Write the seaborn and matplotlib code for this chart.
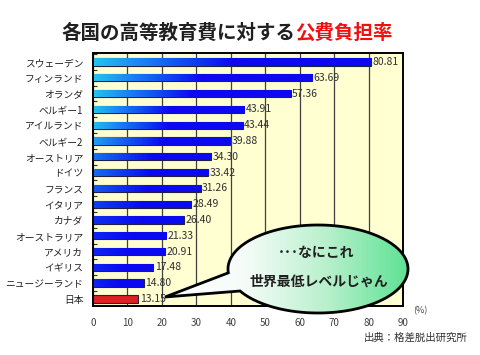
"""各国の高等教育費に対する公費負担率 - 横棒グラフ"""

import numpy as np
import seaborn as sns
from matplotlib import pyplot as plt
from matplotlib.path import Path
from matplotlib.patches import PathPatch
from matplotlib.colors import LinearSegmentedColormap, to_rgb

countries = ['スウェーデン', 'フィンランド', 'オランダ', 'ベルギー1', 'アイルランド', 'ベルギー2',
             'オーストリア', 'ドイツ', 'フランス', 'イタリア', 'カナダ', 'オーストラリア',
             'アメリカ', 'イギリス', 'ニュージーランド', '日本']
values = [80.81, 63.69, 57.36, 43.91, 43.44, 39.88, 34.30, 33.42, 31.26, 28.49,
          26.40, 21.33, 20.91, 17.48, 14.80, 13.15]
highlight = '日本'
xticks = list(range(0, 100, 10))

title_black = '各国の高等教育費に対する'
title_red = '公費負担率'
bubble_lines = ['･･･なにこれ', '世界最低レベルじゃん']
source = '出典：格差脱出研究所'

W, H = 480, 355
BLUE = '#0A0AF0'
CYAN = '#22C4F2'

sns.set_theme(style='white')
plt.rcParams['font.family'] = ['Noto Sans CJK JP', 'DejaVu Sans']

fig = plt.figure(figsize=(W / 100, H / 100), dpi=100)
fig.patch.set_facecolor('white')
ax = fig.add_axes([93 / W, 1 - 306 / H, 310 / W, 253 / H])
ax.set_facecolor('#FFFFD2')

colors = ['#FF0000' if c == highlight else BLUE for c in countries]
sns.barplot(x=values, y=countries, hue=countries, palette=colors, legend=False,
            orient='h', width=0.46, edgecolor='#202040', linewidth=0.8, ax=ax)

# gradient fill: lighter (cyan) at the left end, fading to blue
blue = np.array(to_rgb(BLUE))
cyan = np.array(to_rgb(CYAN))
for patch, c in zip(ax.patches, countries):
    if c == highlight:
        continue
    x0, y0 = patch.get_x(), patch.get_y()
    w, h = patch.get_width(), patch.get_height()
    s = np.clip((w - 22) / 22, 0.15, 1.0)
    start = blue + (cyan - blue) * s
    f = np.clip(np.linspace(0, 1, 256) / 0.5, 0, 1)[:, None]
    rgb = start + (blue - start) * f
    im = ax.imshow(rgb[None, :, :], aspect='auto',
                   extent=[x0, x0 + w, y0 + h, y0], zorder=patch.get_zorder() + 0.1)
    im.set_clip_path(patch)

for cont in ax.containers:
    ax.bar_label(cont, fmt='%.2f', padding=1, fontsize=7.5, color='#303030')

ax.set_xlim(0, 90)
ax.set_ylim(15.45, -0.57)
ax.set_xticks(xticks)
ax.set_xticklabels([str(t) for t in xticks], fontsize=7, color='#404040')
ax.tick_params(axis='x', length=0, pad=9)
ax.tick_params(axis='y', length=0, pad=7, labelsize=7, labelcolor='#202020')
ax.set_yticks(np.arange(-0.5, 15.5, 1), minor=True)
ax.tick_params(axis='y', which='minor', direction='in', length=3, width=0.8, color='#303030', left=True)
ax.set_xlabel('')
ax.set_ylabel('')
ax.grid(axis='x', color='#404040', linewidth=0.9)
ax.set_axisbelow(True)
for s in ax.spines.values():
    s.set_color('black')
    s.set_linewidth(1.4)

# title
fig.text(295 / W, 1 - 33 / H, title_black, ha='right', va='center',
         fontsize=14, fontweight='bold', color='#202020')
fig.text(295 / W, 1 - 33 / H, title_red, ha='left', va='center',
         fontsize=14, fontweight='bold', color='#F01010')
fig.text(420 / W, 1 - 311 / H, '(%)', ha='center', va='center', fontsize=6.5, color='#404040')
fig.text(468 / W, 1 - 338 / H, source, ha='right', va='center', fontsize=7.5, color='#303030')

# speech bubble on an overlay in pixel coords
ov = fig.add_axes([0, 0, 1, 1], zorder=5)
ov.set_xlim(0, W)
ov.set_ylim(H, 0)
ov.axis('off')
ov.patch.set_alpha(0)

cx, cy, a, b = 318, 269, 90, 44
t = np.radians(np.linspace(210, 545, 200))
ex = cx + a * np.cos(t)
ey = cy - b * np.sin(t)
tip = (165, 297)
verts = list(zip(ex, ey)) + [tip, (ex[0], ey[0])]
codes = [Path.MOVETO] + [Path.LINETO] * (len(verts) - 2) + [Path.CLOSEPOLY]
bubble = PathPatch(Path(verts, codes), facecolor='none', edgecolor='black', linewidth=2, zorder=3)
ov.add_patch(bubble)
bcmap = LinearSegmentedColormap.from_list('bub', ['#FFFFFF', '#F4FCF8', '#B8F0CC', '#5EE294'])
bim = ov.imshow(np.linspace(0, 1, 256)[None, :], cmap=bcmap, aspect='auto',
                extent=[165, cx + a, cy + b, cy - b - 2], zorder=2)
bim.set_clip_path(bubble)
ov.text(cx - 2, 253, bubble_lines[0], ha='center', va='center', fontsize=10,
        fontweight='bold', color='#202020', zorder=4)
ov.text(cx + 1, 282, bubble_lines[1], ha='center', va='center', fontsize=10,
        fontweight='bold', color='#202020', zorder=4)

fig.savefig('out.png', dpi=100)
